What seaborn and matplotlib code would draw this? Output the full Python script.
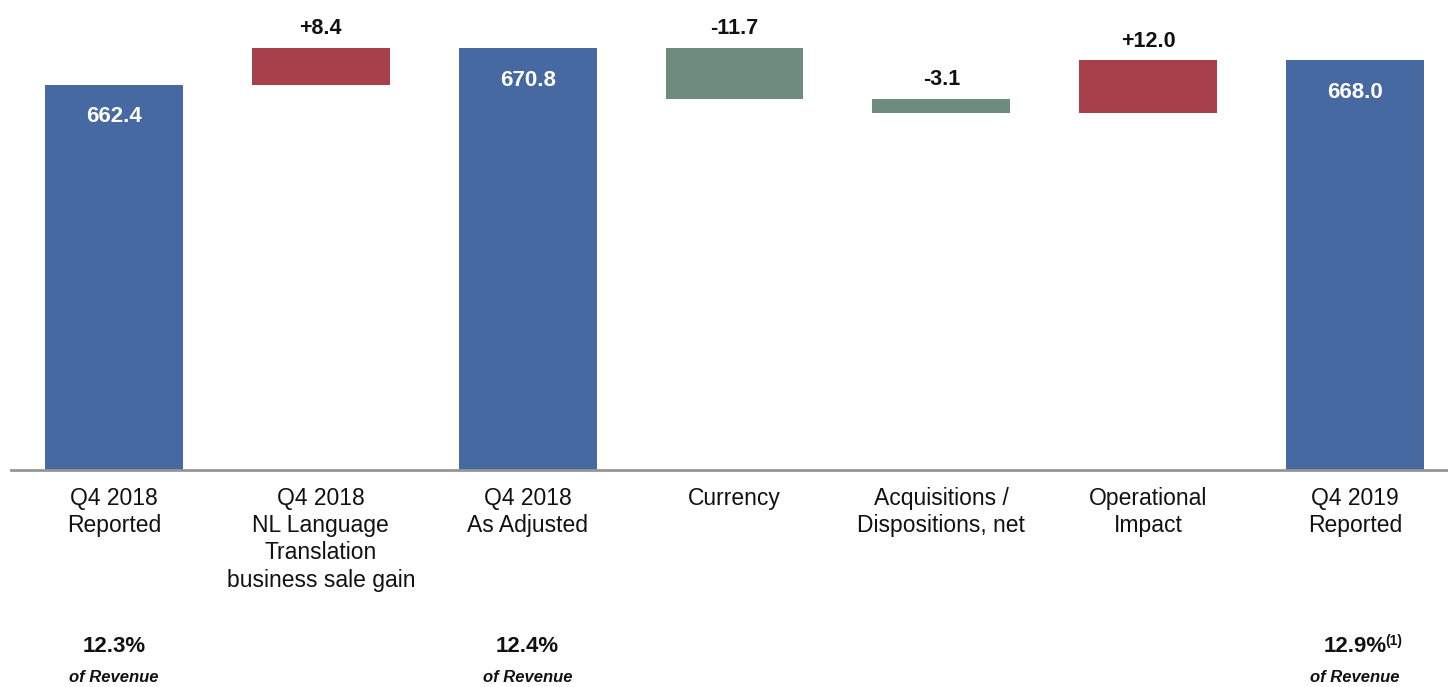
import matplotlib
matplotlib.use("Agg")
import matplotlib.pyplot as plt
import matplotlib.transforms as mtransforms
from matplotlib import font_manager
import numpy as np
import pandas as pd
import seaborn as sns

# Waterfall steps
steps = [
    "Q4 2018\nReported",
    "Q4 2018\nNL Language\nTranslation\nbusiness sale gain",
    "Q4 2018\nAs Adjusted",
    "Currency",
    "Acquisitions /\nDispositions, net",
    "Operational\nImpact",
    "Q4 2019\nReported",
]
kinds = ["total", "up", "total", "down", "down", "up", "total"]
values = [662.4, 8.4, 670.8, -11.7, -3.1, 12.0, 668.0]
value_labels = ["662.4", "+8.4", "670.8", "-11.7", "-3.1", "+12.0", "668.0"]
margin_pct = ["12.3%", "", "12.4%", "", "", "", "12.9%"]
margin_note = ["of Revenue", "", "of Revenue", "", "", "", "of Revenue"]

colors = {"total": "#4669A1", "up": "#A8404B", "down": "#6E8C7D"}

sns.set_theme(style="white")
available = {f.name for f in font_manager.fontManager.ttflist}
family = [f for f in ["Liberation Sans Narrow", "Liberation Sans", "DejaVu Sans"] if f in available]
plt.rcParams["font.family"] = family

# Running level for floating bars
bottoms, heights, tops = [], [], []
level = 0.0
for k, v in zip(kinds, values):
    if k == "total":
        level = v
        bottoms.append(0.0)
        heights.append(v)
        tops.append(v)
    else:
        start = level
        level = start + v
        bottoms.append(min(start, level))
        heights.append(abs(v))
        tops.append(max(start, level))

df = pd.DataFrame({"step": steps, "kind": kinds, "bottom": bottoms,
                   "height": heights, "top": tops})

fig = plt.figure(figsize=(14.48, 6.87), dpi=100)
ax = fig.add_axes([10.5 / 1448, (687 - 470) / 687, 1448 / 1448, 470 / 687])

for kind, col in colors.items():
    sub = df[df["kind"] == kind]
    sns.barplot(data=sub, x="step", y="height", order=steps, color=col,
                bottom=sub["bottom"].values, width=0.667, ax=ax,
                saturation=1, linewidth=0)

ax.set_xlim(-0.5, 6.5)
ax.set_ylim(574.5, 681.8)
ax.set_xlabel("")
ax.set_ylabel("")
ax.set_yticks([])
for side in ["top", "right", "left"]:
    ax.spines[side].set_visible(False)
ax.spines["bottom"].set_color("#969696")
ax.spines["bottom"].set_linewidth(2)
ax.tick_params(axis="x", length=0, pad=12, labelsize=16.5, labelcolor="#111111")
for lab in ax.get_xticklabels():
    lab.set_linespacing(1.24)

# Value labels
for i, row in df.iterrows():
    if row["kind"] == "total":
        ax.annotate(value_labels[i], (i, row["top"]), xytext=(0, -23),
                    textcoords="offset points", ha="center", va="center",
                    color="white", fontsize=16, fontweight="bold")
    else:
        ax.annotate(value_labels[i], (i, row["top"]), xytext=(0, 14),
                    textcoords="offset points", ha="center", va="center",
                    color="#111111", fontsize=15.5, fontweight="bold")

# Margin annotations below the axis
trans = mtransforms.blended_transform_factory(ax.transData, fig.transFigure)
for i, (p, n) in enumerate(zip(margin_pct, margin_note)):
    if not p:
        continue
    ax.text(i, (687 - 647) / 687, p, transform=trans, ha="center", va="center",
            fontsize=16, fontweight="bold", color="#111111")
    ax.text(i, (687 - 678) / 687, n, transform=trans, ha="center", va="center",
            fontsize=12, fontweight="bold", fontstyle="italic", color="#111111")

# Footnote marker after the last margin figure
ax.annotate("(1)", (6, (687 - 647) / 687), xycoords=trans, xytext=(21.5, 4),
            textcoords="offset points", ha="left", va="center",
            fontsize=10, fontweight="bold", color="#111111")

fig.savefig("out.png", dpi=100)
